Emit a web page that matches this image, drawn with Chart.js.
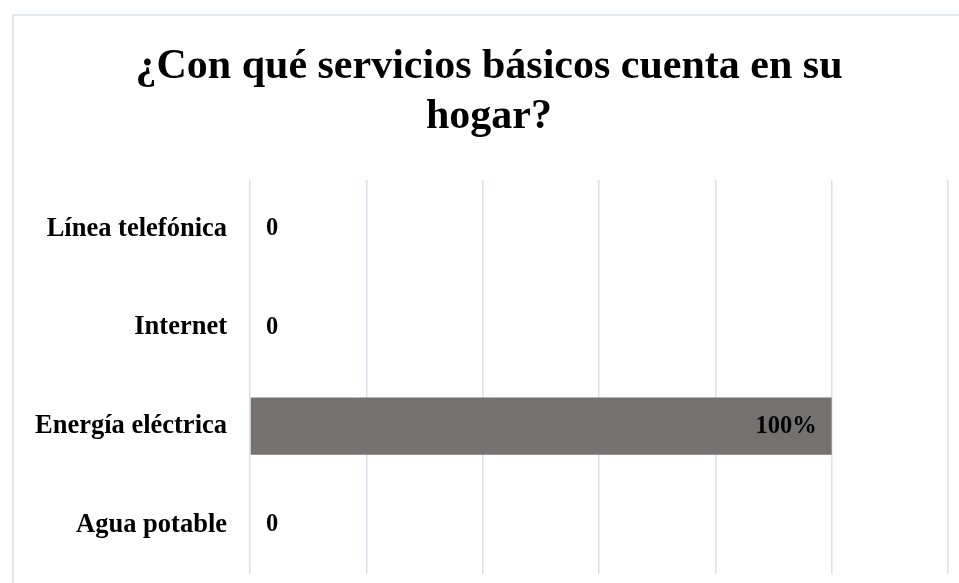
<!DOCTYPE html>
<html>
<head>
<meta charset="utf-8">
<script src="https://cdn.jsdelivr.net/npm/chart.js@4/dist/chart.umd.min.js"></script>
<style>
  html, body { margin: 0; padding: 0; background: #fff; overflow: hidden; }
  #wrap { position: relative; width: 959px; height: 583px; }
  #marco {
    position: absolute; left: 12px; top: 14px; width: 1000px; height: 600px;
    border-left: 2px solid #e4e8f0; border-top: 2px solid #e4e8f0;
    box-sizing: border-box; pointer-events: none;
  }
  canvas { position: absolute; left: 0; top: 0; }
</style>
</head>
<body>
<div id="wrap">
  <canvas id="grafico" width="959" height="583"></canvas>
  <div id="marco"></div>
</div>
<script>
const TITULO = ['¿Con qué servicios básicos cuenta en su', 'hogar?'];
const CATEGORIAS = ['Línea telefónica', 'Internet', 'Energía eléctrica', 'Agua potable'];
const VALORES = [0, 0, 100, 0];
const ESCALA_MAX = 120;
const ESCALA_PASO = 20;

const FUENTE = "'Liberation Serif', 'Times New Roman', serif";
const COLOR_BARRA = '#767171';
const COLOR_REJILLA = '#dbe0ea';

// etiquetas de valor: "0" fuera de la barra, porcentaje dentro al final
const etiquetasValor = {
  id: 'etiquetasValor',
  afterDatasetsDraw(chart) {
    const ctx = chart.ctx;
    const meta = chart.getDatasetMeta(0);
    ctx.save();
    ctx.font = `bold 24.5px ${FUENTE}`;
    ctx.fillStyle = '#000';
    ctx.textBaseline = 'middle';
    meta.data.forEach((barra, i) => {
      const v = VALORES[i];
      if (v === 0) {
        ctx.textAlign = 'left';
        ctx.fillText('0', barra.base + 16, barra.y);
      } else {
        ctx.textAlign = 'right';
        ctx.fillText(v + '%', barra.x - 15, barra.y);
      }
    });
    ctx.restore();
  }
};

new Chart(document.getElementById('grafico').getContext('2d'), {
  type: 'bar',
  data: {
    labels: CATEGORIAS,
    datasets: [{
      data: VALORES,
      backgroundColor: COLOR_BARRA,
      borderWidth: 0,
      categoryPercentage: 1,
      barPercentage: 0.58
    }]
  },
  options: {
    indexAxis: 'y',
    responsive: false,
    animation: false,
    layout: { padding: { left: 30, right: 11, top: 0, bottom: 9 } },
    plugins: {
      legend: { display: false },
      tooltip: { enabled: false },
      title: {
        display: true,
        text: TITULO,
        color: '#000',
        font: { family: FUENTE, size: 42, weight: 'bold', lineHeight: 1.2 },
        padding: { top: 42, bottom: 37 }
      }
    },
    scales: {
      x: {
        min: 0,
        max: ESCALA_MAX,
        ticks: { display: false, stepSize: ESCALA_PASO },
        grid: { color: COLOR_REJILLA, lineWidth: 1.5, drawTicks: false },
        border: { display: false },
        afterFit: (s) => { s.height = 0; }
      },
      y: {
        grid: { display: false, drawTicks: false },
        border: { display: false },
        ticks: {
          color: '#000',
          padding: 23,
          font: { family: FUENTE, size: 26.5, weight: 'bold' }
        },
        afterFit: (s) => {
          s.width = 220;
          s.paddingTop = 0;
          s.paddingBottom = 0;
        }
      }
    }
  },
  plugins: [etiquetasValor]
});
</script>
</body>
</html>
